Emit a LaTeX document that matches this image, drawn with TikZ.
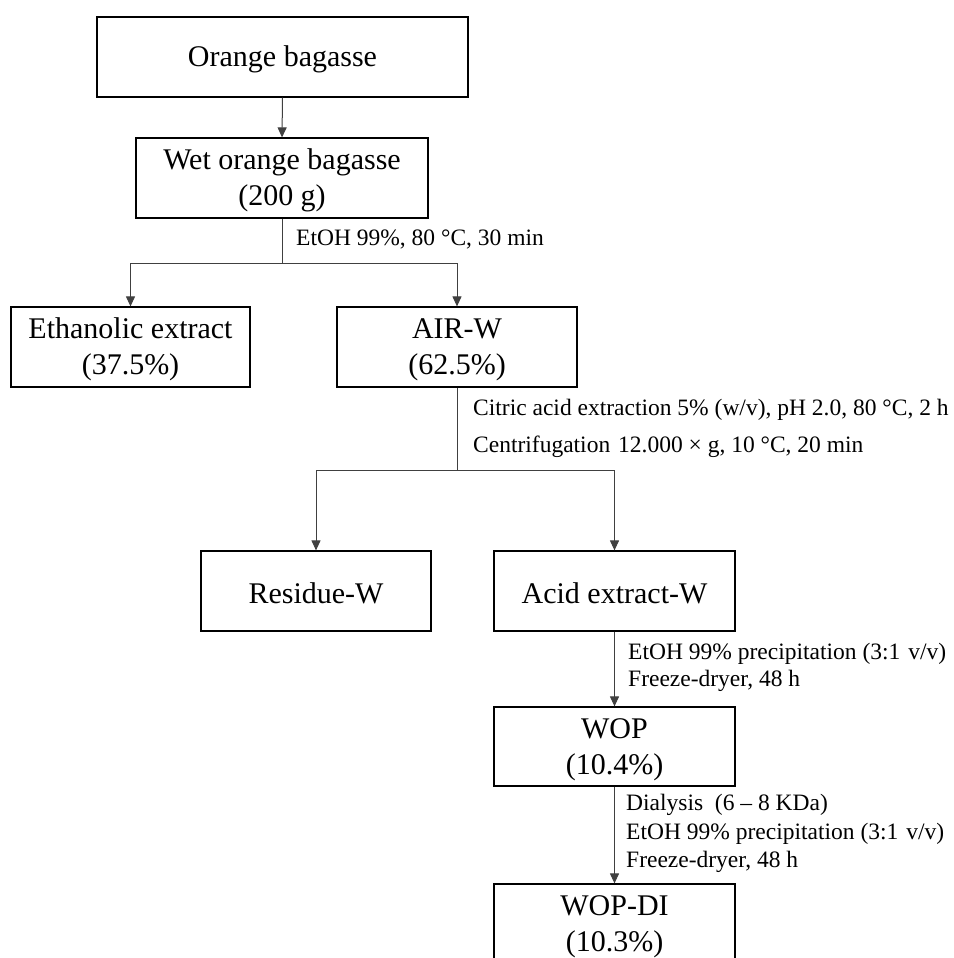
\documentclass[tikz,border=0pt]{standalone}
\usepackage{fontspec}
\setmainfont{Liberation Serif}
\usetikzlibrary{arrows.meta}
\tikzset{
  box/.style={draw=black, line width=1.2pt, fill=white, align=center, inner sep=0pt,
    font=\fontsize{30}{36}\selectfont},
  conn/.style={draw=black!75, line width=1pt},
  arr/.style={conn, -{Triangle[length=10pt,width=9pt]}},
  lbl/.style={anchor=west, inner sep=0pt, text height=0.7em, text depth=0.25em,
    font=\fontsize{23.5}{27}\selectfont}
}
\begin{document}
\begin{tikzpicture}[x=1pt,y=-1pt]
\useasboundingbox (0,0) rectangle (953,958);
\node[box, minimum width=371pt, minimum height=80pt] (ob) at (282.5,57) {\rule{0pt}{26pt}Orange bagasse};
\node[box, minimum width=292pt, minimum height=80pt] (wob) at (282,178) {\rule{0pt}{26pt}Wet orange bagasse\\(200 g)};
\node[box, minimum width=239pt, minimum height=80pt] (eth) at (130.5,347) {\rule{0pt}{26pt}Ethanolic extract\\(37.5\%)};
\node[box, minimum width=240pt, minimum height=80pt] (air) at (457,347) {\rule{0pt}{26pt}AIR-W\\(62.5\%)};
\node[box, minimum width=230pt, minimum height=80pt] (res) at (316,591) {\rule{0pt}{26pt}Residue-W};
\node[box, minimum width=241pt, minimum height=80pt] (acid) at (614.5,591) {\rule{0pt}{26pt}Acid extract-W};
\node[box, minimum width=241pt, minimum height=79pt] (wop) at (614.5,746.5) {\rule{0pt}{26pt}WOP\\(10.4\%)};
\node[box, minimum width=241pt, minimum height=80pt] (wopdi) at (614.5,924) {\rule{0pt}{26pt}WOP-DI\\(10.3\%)};

\draw[arr] (ob.south) -- (wob.north);
\coordinate (s1) at (282,263);
\draw[conn] (wob.south) -- (s1);
\draw[arr] (s1) -| (eth.north);
\draw[arr] (s1) -| (air.north);

\coordinate (s2) at (457,470);
\draw[conn] (air.south) -- (s2);
\draw[arr] (s2) -| (res.north);
\draw[arr] (s2) -| (acid.north);

\draw[arr] (acid.south) -- (wop.north);
\draw[arr] (wop.south) -- (wopdi.north);

\node[lbl] (l1) at (296,243) {EtOH 99\%, 80 °C, 30 min};
\node[lbl] (l2) at (473,413) {Citric acid extraction 5\% (w/v), pH 2.0, 80 °C, 2 h};
\node[lbl] (l3) at (473,450) {Centrifugation\hspace{2pt} 12.000 × g, 10 °C, 20 min};
\node[lbl] (l4) at (628,657) {EtOH 99\% precipitation (3:1\hspace{2pt} v/v)};
\node[lbl] (l5) at (628,684) {Freeze-dryer, 48 h};
\node[lbl] (l6) at (626,808) {Dialysis\ \ (6 – 8 KDa)};
\node[lbl] (l7) at (626,837) {EtOH 99\% precipitation (3:1\hspace{2pt} v/v)};
\node[lbl] (l8) at (626,865) {Freeze-dryer, 48 h};
\end{tikzpicture}
\end{document}
